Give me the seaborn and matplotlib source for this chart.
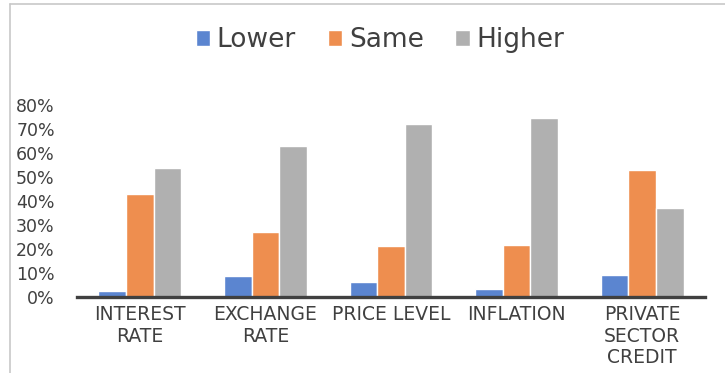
import matplotlib
matplotlib.use("Agg")
import matplotlib.pyplot as plt
import pandas as pd
import seaborn as sns
from matplotlib.lines import Line2D
from matplotlib.ticker import PercentFormatter

# Survey responses: expected direction of each indicator
categories = ["INTEREST\nRATE", "EXCHANGE\nRATE", "PRICE LEVEL", "INFLATION",
              "PRIVATE\nSECTOR\nCREDIT"]
series = ["Lower", "Same", "Higher"]
lower = [0.026, 0.089, 0.061, 0.032, 0.093]
same = [0.429, 0.271, 0.211, 0.217, 0.528]
higher = [0.536, 0.630, 0.722, 0.744, 0.372]
y_ticks = [0.0, 0.1, 0.2, 0.3, 0.4, 0.5, 0.6, 0.7, 0.8]

colors = ["#5B85D0", "#EE8E4F", "#B0B0B0"]
text_color = "#404040"

df = pd.DataFrame({
    "category": categories * 3,
    "series": [s for s in series for _ in categories],
    "value": lower + same + higher,
})

sns.set_theme(style="white")
plt.rcParams["font.family"] = ["DejaVu Sans"]

fig = plt.figure(figsize=(7.25, 3.73), dpi=100)
fig.patch.set_linewidth(0)
ax = fig.add_axes([77 / 725, 1 - 297 / 373, (705 - 77) / 725, (297 - 105) / 373])

sns.barplot(data=df, x="category", y="value", hue="series", order=categories,
            hue_order=series, palette=colors, width=0.66, saturation=1,
            edgecolor="white", linewidth=1.0, ax=ax)

ax.set_xlim(-0.5, 4.5)
ax.set_ylim(0, 0.8)
ax.set_yticks(y_ticks)
ax.yaxis.set_major_formatter(PercentFormatter(1.0, decimals=0))
ax.set_xlabel("")
ax.set_ylabel("")

for side in ["top", "right", "left"]:
    ax.spines[side].set_visible(False)
ax.spines["bottom"].set_color(text_color)
ax.spines["bottom"].set_linewidth(2.4)
ax.spines["bottom"].set_zorder(5)

ax.tick_params(axis="y", length=0, pad=16, labelsize=12.5, labelcolor=text_color)
ax.tick_params(axis="x", length=0, pad=6, labelsize=13.5, labelcolor=text_color)
for lab in ax.get_xticklabels():
    lab.set_linespacing(1.15)
    lab.set_horizontalalignment("center")

handles, labels = ax.get_legend_handles_labels()
ax.legend(handles, labels, loc="center", bbox_to_anchor=(380 / 725, 1 - 40 / 373),
          bbox_transform=fig.transFigure, ncol=3, frameon=False, fontsize=19,
          handlelength=0.55, handleheight=0.55, handletextpad=0.25,
          columnspacing=1.2, labelcolor=text_color)

# light chart-area border along the top and left
fig.add_artist(Line2D([10 / 725, 1.0], [1 - 4 / 373, 1 - 4 / 373],
                      transform=fig.transFigure, color="#C8C8C8", lw=1.2))
fig.add_artist(Line2D([10 / 725, 10 / 725], [0.0, 1 - 4 / 373],
                      transform=fig.transFigure, color="#C8C8C8", lw=1.2))

fig.savefig("out.png", dpi=100)
